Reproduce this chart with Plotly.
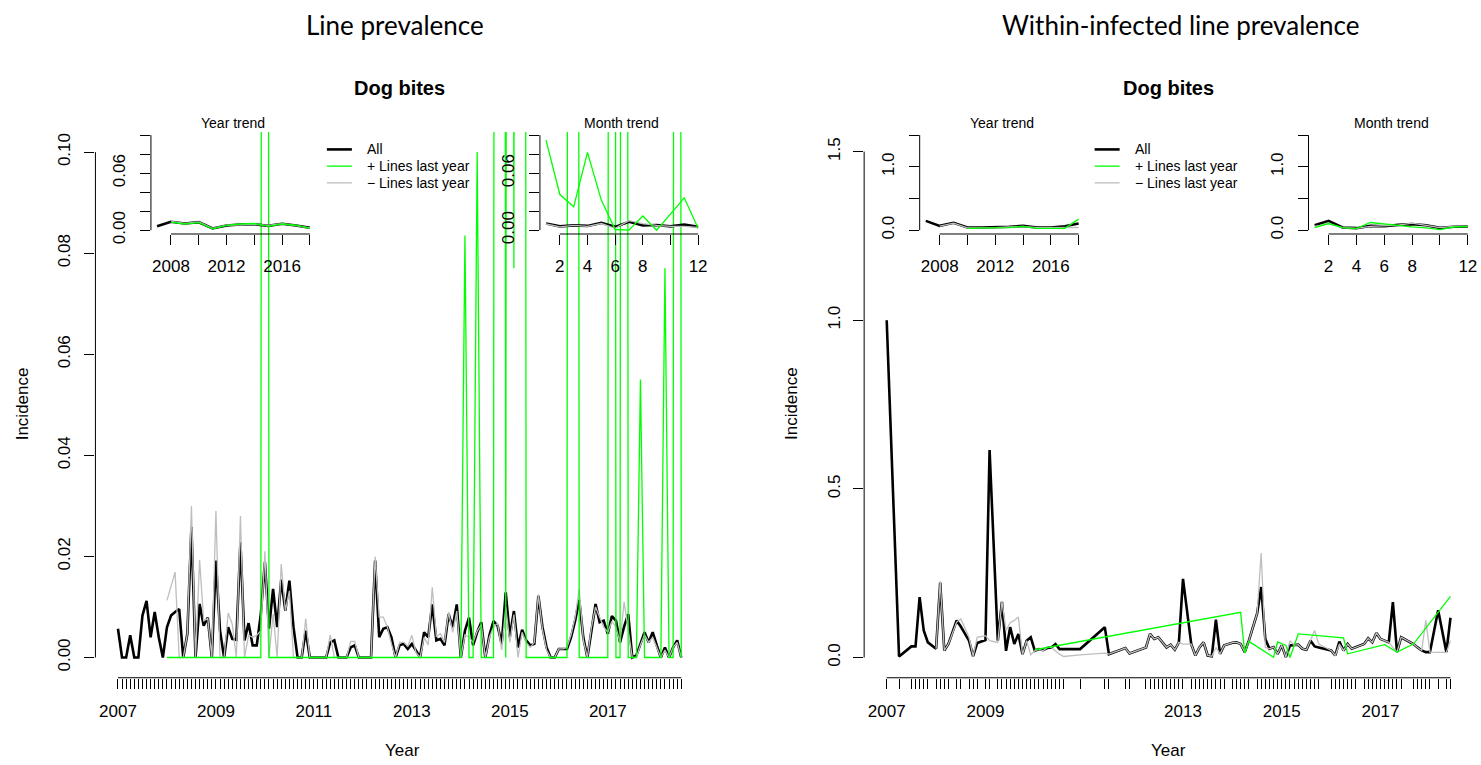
import plotly.graph_objects as go

W, H = 1481, 765
# effective rendered size observed in the screenshot (used for pixel -> paper conversion)
W_EFF, H_EFF = 1478.5, 754.4
N = None

# ---------------- Left panel: line prevalence (monthly Jan 2007 .. Jul 2018)
left_dates = [f"{2007 + k // 12}-{k % 12 + 1:02d}" for k in range(139)]
left_all = [
    0.0057, 0, 0, 0.0044, 0, 0, 0.0083, 0.0112, 0.0040, 0.0090, 0.0040, 0,
    0.0060, 0.0083, 0.0090, 0.0096, 0, 0.0047, 0.0258, 0, 0.0106, 0.0063, 0.0079, 0,
    0.0192, 0.0053, 0, 0.0060, 0.0037, 0.0035, 0.0228, 0.0034, 0.0068, 0.0024, 0.0024, 0.0086,
    0.0189, 0.0057, 0.0136, 0.0060, 0.0154, 0.0093, 0.0152, 0.0060, 0, 0, 0.0053, 0,
    0, 0, 0, 0, 0.0030, 0.0034, 0, 0, 0, 0.0020, 0.0024, 0,
    0, 0, 0, 0.0192, 0.0040, 0.0057, 0.0060, 0.0040, 0, 0.0024, 0.0027, 0.0017,
    0.0027, 0.0014, 0, 0.0050, 0.0040, 0.0105, 0.0034, 0.0037, 0.0024, 0.0086, 0.0060, 0.0105,
    0, 0.0053, 0.0079, 0.0024, 0.0050, 0.0070, 0, 0.0044, 0.0072, 0.0063, 0.0027, 0.0129,
    0.0041, 0.0092, 0.0020, 0.0055, 0.0034, 0.0024, 0.0027, 0.0122, 0.0060, 0.0020, 0, 0,
    0.0017, 0.0017, 0.0017, 0.0040, 0.0073, 0.0114, 0.0040, 0, 0.0053, 0.0106, 0.0070, 0.0073,
    0.0047, 0.0082, 0.0073, 0.0030, 0.0061, 0.0086, 0, 0.0004, 0.0027, 0.0050, 0.0030, 0.0050,
    0.0024, 0, 0.0020, 0, 0.0020, 0.0034, 0,
]
left_minus = [
    N, N, N, N, N, N, N, N, N, N, N, N,
    0.0113, 0.0140, 0.0169, 0, 0, 0.0047, 0.0300, 0, 0.0193, 0.0073, 0.0077, 0,
    0.0290, 0, 0, 0.0088, 0.0066, 0, 0.0280, 0, 0.0044, 0.0040, 0.0044, 0.0053,
    0.0210, 0, 0.0086, 0, 0.0185, 0.0093, 0.0132, 0, 0, 0, 0.0077, 0,
    0, 0, 0, 0, 0.0045, 0, 0, 0, 0, 0.0032, 0.0032, 0,
    0, 0, 0, 0.0200, 0.0080, 0.0080, 0.0060, 0.0027, 0, 0.0030, 0.0030, 0.0022,
    0.0044, 0.0010, 0, 0.0040, 0.0025, 0.0139, 0.0042, 0.0047, 0.0030, 0.0090, 0.0050, 0.0092,
    0, 0.0045, 0.0040, 0.0030, 0.0052, 0.0065, 0, 0.0040, 0.0060, 0.0068, 0.0015, 0.0100,
    0.0030, 0.0085, 0, 0.0050, 0.0030, 0.0020, 0.0030, 0.0125, 0.0055, 0.0015, 0, 0,
    0.0017, 0.0017, 0.0020, 0.0045, 0.0080, 0.0136, 0.0035, 0, 0.0060, 0.0100, 0.0080, 0.0060,
    0.0050, 0.0072, 0.0060, 0.0030, 0.0110, 0.0050, 0, 0, 0.0025, 0.0045, 0.0030, 0.0040,
    0.0020, 0, 0.0015, 0, 0.0020, 0.0030, 0,
]
left_plus = [
    N, N, N, N, N, N, N, N, N, N, N, N,
    0, 0, 0, 0, 0, 0, 0, 0, 0, 0, 0, 0,
    0, 0, 0, 0, 0, 0, 0, 0, 0, 0, 0, 0,
    1.0, 0, 0, 0, 0, 0, 0, 0, 0, 0, 0, 0,
    0, 0, 0, 0, 0, 0, 0, 0, 0, 0, 0, 0,
    0, 0, 0, 0, 0, 0, 0, 0, 0, 0, 0, 0,
    0, 0, 0, 0, 0, 0, 0, 0, 0, 0, 0, 0,
    0, 0.0835, 0, 0, 0.100, 0, 0, 0, 0, 1.0, 1.0, 0,
    1.0, 0.077, 1.0, 1.0, 0, 0, 0, 0, 0, 0, 0, 0,
    0, 0, 0, 1.0, 1.0, 0, 0, 0, 0, 0, 0, 0,
    0, 1.0, 0, 0, 1.0, 0, 0, 0, 0.055, 0, 0, 0,
    0, 0, 0.077, 0, 0, 1.0, 0,
]

years = list(range(2007, 2019))
left_year_all = [0.0042, 0.0088, 0.0070, 0.0084, 0.0018, 0.0049, 0.0060, 0.0063, 0.0046, 0.0067, 0.0050, 0.0025]
left_year_plus = [N, 0.0085, 0.0065, 0.0080, 0.0015, 0.0050, 0.0065, 0.0070, 0.0040, 0.0065, 0.0052, 0.0020]
left_year_minus = [N, 0.0092, 0.0072, 0.0088, 0.0020, 0.0052, 0.0058, 0.0060, 0.0050, 0.0068, 0.0048, 0.0025]

months = list(range(1, 13))
left_month_all = [0.0070, 0.0040, 0.0050, 0.0045, 0.0077, 0.0035, 0.0088, 0.0050, 0.0055, 0.0040, 0.0060, 0.0035]
left_month_plus = [0.0947, 0.0375, 0.0246, 0.0818, 0.0316, 0.0007, 0.0, 0.0150, 0.0, 0.0170, 0.0340, 0.0020]
left_month_minus = [0.0065, 0.0035, 0.0050, 0.0040, 0.0070, 0.0020, 0.0100, 0.0070, 0.0050, 0.0040, 0.0040, 0.0030]

# ---------------- Right panel: within-infected line prevalence (irregular months)
right_dates = [
    "2007-01", "2007-04", "2007-07", "2007-08", "2007-09", "2007-10", "2007-11",
    "2008-01", "2008-02", "2008-03", "2008-04", "2008-06", "2008-07", "2008-09", "2008-10", "2008-11",
    "2009-01", "2009-02", "2009-04", "2009-05", "2009-06", "2009-07", "2009-08", "2009-09", "2009-10", "2009-11", "2009-12",
    "2010-01", "2010-02", "2010-03", "2010-04", "2010-05", "2010-06", "2010-07", "2010-08", "2010-12",
    "2011-06", "2011-07", "2011-11", "2011-12",
    "2012-04", "2012-05", "2012-06", "2012-07", "2012-08", "2012-09", "2012-10", "2012-11", "2012-12",
    "2013-01", "2013-03", "2013-04", "2013-05", "2013-06", "2013-07", "2013-08", "2013-09", "2013-10", "2013-11",
    "2014-01", "2014-02", "2014-03", "2014-04", "2014-05", "2014-07", "2014-08", "2014-09", "2014-10", "2014-11", "2014-12",
    "2015-01", "2015-02", "2015-03", "2015-04", "2015-05", "2015-06", "2015-07", "2015-08", "2015-09", "2015-10",
    "2016-01", "2016-02", "2016-03", "2016-04", "2016-05", "2016-06", "2016-07", "2016-09", "2016-10", "2016-11", "2016-12",
    "2017-01", "2017-02", "2017-03", "2017-04", "2017-05", "2017-06", "2017-09", "2017-10", "2017-11", "2017-12",
    "2018-01", "2018-03", "2018-05", "2018-06",
]
right_all = [
    1.0, 0.003, 0.033, 0.033, 0.179, 0.080, 0.045,
    0.026, 0.222, 0.021, 0.040, 0.110, 0.092, 0.050, 0.004, 0.043,
    0.052, 0.615, 0.050, 0.165, 0.020, 0.090, 0.040, 0.070, 0.010, 0.050, 0.060,
    0.020, 0.025, 0.022, 0.028, 0.030, 0.040, 0.025, 0.025, 0.025,
    0.090, 0.010, 0.028, 0.012,
    0.030, 0.070, 0.055, 0.060, 0.045, 0.030, 0.038, 0.023, 0.045,
    0.233, 0.040, 0.006, 0.030, 0.045, 0.006, 0.004, 0.112, 0.011, 0.036,
    0.044, 0.045, 0.040, 0.016, 0.050, 0.130, 0.209, 0.055, 0.026, 0.031, 0.011,
    0.036, 0.001, 0.036, 0.036, 0.038, 0.026, 0.023, 0.050, 0.033, 0.030,
    0.021, 0.006, 0.047, 0.021, 0.040, 0.026, 0.030, 0.040, 0.057, 0.045, 0.073,
    0.055, 0.050, 0.045, 0.164, 0.016, 0.060, 0.040, 0.030, 0.021, 0.016,
    0.016, 0.140, 0.016, 0.118,
]
right_minus = [
    N, N, N, N, N, N, N,
    0.026, 0.226, 0.021, 0.040, 0.105, 0.115, 0.060, 0.004, 0.060,
    0.065, 0.050, 0.045, 0.167, 0.080, 0.103, 0.110, 0.120, 0.009, 0.050, 0.008,
    0.020, 0.025, 0.020, 0.030, 0.030, 0.020, 0.010, 0.003, 0.008,
    0.013, 0.010, 0.028, 0.012,
    0.030, 0.070, 0.055, 0.060, 0.045, 0.030, 0.038, 0.023, 0.045,
    0.040, 0.040, 0.006, 0.030, 0.045, 0.006, 0.004, 0.030, 0.011, 0.036,
    0.044, 0.045, 0.040, 0.016, 0.050, 0.130, 0.310, 0.030, 0.026, 0.031, 0.011,
    0.036, 0.001, 0.050, 0.036, 0.038, 0.026, 0.023, 0.050, 0.080, 0.040,
    0.021, 0.006, 0.040, 0.021, 0.040, 0.026, 0.030, 0.040, 0.057, 0.045, 0.073,
    0.055, 0.050, 0.045, 0.030, 0.016, 0.060, 0.040, 0.030, 0.021, 0.110,
    0.016, 0.015, 0.015, 0.050,
]
right_plus_dates = ["2010-01", "2014-03", "2014-04", "2014-05", "2014-11", "2014-12", "2015-02",
                    "2015-03", "2015-05", "2016-04", "2016-05", "2017-02", "2017-05", "2017-09", "2018-06"]
right_plus = [0.023, 0.134, 0.013, 0.048, 0.001, 0.046, 0.036, 0.0, 0.070, 0.058, 0.011, 0.038, 0.016, 0.040, 0.181]

right_year_all = [0.147, 0.068, 0.116, 0.042, 0.042, 0.042, 0.053, 0.068, 0.042, 0.042, 0.063, 0.105]
right_year_plus = [N, N, N, 0.030, 0.030, 0.030, 0.040, 0.060, 0.030, 0.030, 0.030, 0.174]
right_year_minus = [N, 0.065, 0.110, 0.035, 0.035, 0.040, 0.050, 0.060, 0.040, 0.040, 0.050, 0.042]

right_month_all = [0.079, 0.147, 0.042, 0.032, 0.068, 0.063, 0.084, 0.095, 0.079, 0.037, 0.053, 0.058]
right_month_plus = [0.042, 0.105, 0.040, 0.026, 0.121, 0.095, 0.074, 0.053, 0.037, 0.010, 0.050, 0.058]
right_month_minus = [0.060, 0.100, 0.040, 0.030, 0.060, 0.070, 0.080, 0.110, 0.080, 0.040, 0.060, 0.060]

series_names = ["All", "+ Lines last year", "\u2212 Lines last year"]
year_labels_left = {"2007-01": "2007", "2009-01": "2009", "2011-01": "2011", "2013-01": "2013",
                    "2015-01": "2015", "2017-01": "2017"}
year_labels_right = {"2007-01": "2007", "2009-01": "2009", "2013-01": "2013", "2015-01": "2015",
                     "2017-01": "2017"}

# ---------------- styling
BLACK = "#000000"
GREEN = "#00FF00"
GREY = "#BEBEBE"
FONT = "Liberation Sans, Arial, Helvetica, sans-serif"
TITLEFONT = "Lato, Open Sans, sans-serif"
TICKFONT = dict(family=FONT, size=17, color="black")


def dec(d):
    y, m = d.split("-")
    return int(y) + (int(m) - 1) / 12.0


def pxx(p):
    return p / W_EFF


def pxy(p):
    return 1 - p / H_EFF


fig = go.Figure()
layout = dict(width=W, height=H, margin=dict(l=0, r=0, t=0, b=0),
              paper_bgcolor="white", plot_bgcolor="rgba(0,0,0,0)", showlegend=False)
shapes = []
annotations = []


def add_panel(idx, xpx0, xscale, xorigin, xr, ypx0, yscale, yr, xticks, xtext, yticks, ytext,
              xline, yline, xstand, ystand):
    """xpx = xpx0 + xscale*(x - xorigin); ypx = ypx0 - yscale*y"""
    d0 = xpx0 + xscale * (xr[0] - xorigin)
    d1 = xpx0 + xscale * (xr[1] - xorigin)
    top = ypx0 - yscale * yr[1]
    bot = ypx0 - yscale * yr[0]
    sx = "" if idx == 1 else str(idx)
    layout["xaxis" + sx] = dict(domain=[pxx(d0), pxx(d1)], range=list(xr), anchor="y" + sx,
                                tickmode="array", tickvals=xticks, ticktext=xtext,
                                ticks="outside", ticklen=10, tickwidth=1, tickcolor="black",
                                showline=False, showgrid=False, zeroline=False,
                                tickfont=TICKFONT, ticklabelstandoff=xstand, tickangle=0)
    layout["yaxis" + sx] = dict(domain=[pxy(bot), pxy(top)], range=list(yr), anchor="x" + sx,
                                tickmode="array", tickvals=yticks, ticktext=ytext,
                                ticks="outside", ticklen=10, tickwidth=1, tickcolor="black",
                                showline=False, showgrid=False, zeroline=False,
                                tickfont=TICKFONT, tickangle=-90, ticklabelstandoff=ystand)
    shapes.append(dict(type="line", xref="x" + sx, yref="paper", x0=xline[0], x1=xline[1],
                       y0=pxy(bot), y1=pxy(bot), line=dict(color="black", width=1)))
    shapes.append(dict(type="line", xref="paper", yref="y" + sx, x0=pxx(d0), x1=pxx(d0),
                       y0=yline[0], y1=yline[1], line=dict(color="black", width=1)))
    return "x" + sx, "y" + sx


def add_series(xa, ya, x_all, all_, x_plus, plus, x_minus, minus, wb=2.6, wt=1.3):
    fig.add_trace(go.Scatter(x=x_all, y=all_, mode="lines", xaxis=xa, yaxis=ya, name=series_names[0],
                             line=dict(color=BLACK, width=wb), connectgaps=False, hoverinfo="skip"))
    fig.add_trace(go.Scatter(x=x_minus, y=minus, mode="lines", xaxis=xa, yaxis=ya, name=series_names[2],
                             line=dict(color=GREY, width=wt), connectgaps=False, hoverinfo="skip"))
    fig.add_trace(go.Scatter(x=x_plus, y=plus, mode="lines", xaxis=xa, yaxis=ya, name=series_names[1],
                             line=dict(color=GREEN, width=wt), connectgaps=False, hoverinfo="skip"))


# ---- Left main
lx = [dec(d) for d in left_dates]
span = lx[-1] - lx[0]
xr = (lx[0] - 0.04 * span, lx[-1] + 0.04 * span)
xa, ya = add_panel(1, 118, 49.0, 2007, xr, 657, 5050, (-0.004, 0.104),
                   lx, [year_labels_left.get(d, "") for d in left_dates],
                   [0, 0.02, 0.04, 0.06, 0.08, 0.10], ["0.00", "0.02", "0.04", "0.06", "0.08", "0.10"],
                   (lx[0], lx[-1]), (0, 0.10), 8, 8)
add_series(xa, ya, lx, left_all, lx, left_plus, lx, left_minus)

# ---- Left year inset
span = years[-1] - years[0]
xr = (years[0] - 0.04 * span, years[-1] + 0.04 * span)
xa, ya = add_panel(2, 157.1, 13.9, 2007, xr, 230, 950, (-0.004, 0.104),
                   [2008, 2010, 2012, 2014, 2016, 2018], ["2008", "", "2012", "", "2016", ""],
                   [0, 0.02, 0.04, 0.06, 0.08, 0.10], ["0.00", "", "", "0.06", "", ""],
                   (2008, 2018), (0, 0.10), 7, 8)
add_series(xa, ya, years, left_year_all, years, left_year_plus, years, left_year_minus)

# ---- Left month inset
xr = (1 - 0.44, 12 + 0.44)
xa, ya = add_panel(3, 546.2, 13.83, 1, xr, 230, 950, (-0.004, 0.104),
                   [2, 4, 6, 8, 10, 12], ["2", "4", "6", "8", "", "12"],
                   [0, 0.02, 0.04, 0.06, 0.08, 0.10], ["0.00", "", "", "0.06", "", ""],
                   (2, 12), (0, 0.10), 7, 8)
add_series(xa, ya, months, left_month_all, months, left_month_plus, months, left_month_minus)

# ---- Right main
rx = [dec(d) for d in right_dates]
rpx = [dec(d) for d in right_plus_dates]
span = rx[-1] - rx[0]
xr = (rx[0] - 0.04 * span, rx[-1] + 0.04 * span)
xa, ya = add_panel(4, 887, 49.4, 2007, xr, 657, 337, (-0.06, 1.56),
                   rx, [year_labels_right.get(d, "") for d in right_dates],
                   [0, 0.5, 1.0, 1.5], ["0.0", "0.5", "1.0", "1.5"],
                   (rx[0], rx[-1]), (0, 1.5), 8, 6)
add_series(xa, ya, rx, right_all, rpx, right_plus, rx, right_minus)

# ---- Right year inset
span = years[-1] - years[0]
xr = (years[0] - 0.04 * span, years[-1] + 0.04 * span)
xa, ya = add_panel(5, 926.1, 13.9, 2007, xr, 230, 63.33, (-0.06, 1.56),
                   [2008, 2010, 2012, 2014, 2016, 2018], ["2008", "", "2012", "", "2016", ""],
                   [0, 0.5, 1.0, 1.5], ["0.0", "", "1.0", ""],
                   (2008, 2018), (0, 1.5), 7, 8)
add_series(xa, ya, years, right_year_all, years, right_year_plus, years, right_year_minus)

# ---- Right month inset
xr = (1 - 0.44, 12 + 0.44)
xa, ya = add_panel(6, 1315.1, 13.93, 1, xr, 230, 63.33, (-0.06, 1.56),
                   [2, 4, 6, 8, 10, 12], ["2", "4", "6", "8", "", "12"],
                   [0, 0.5, 1.0, 1.5], ["0.0", "", "1.0", ""],
                   (2, 12), (0, 1.5), 7, 8)
add_series(xa, ya, months, right_month_all, months, right_month_plus, months, right_month_minus)


# ---------------- text
def ann(text, x, y, size, family=FONT, angle=0, xanchor="center", bold=False):
    if bold:
        text = "<b>" + text + "</b>"
    annotations.append(dict(text=text, x=pxx(x), y=pxy(y), xref="paper", yref="paper",
                            showarrow=False, xanchor=xanchor, yanchor="middle", textangle=angle,
                            font=dict(family=family, size=size, color="black")))


ann("Line prevalence", 395, 25, 26, TITLEFONT)
ann("Within-infected line prevalence", 1181, 25, 26, TITLEFONT)
ann("Dog bites", 400, 88, 20, bold=True)
ann("Dog bites", 1169, 88, 20, bold=True)
ann("Year trend", 233.5, 123, 14)
ann("Month trend", 622, 123, 14)
ann("Year trend", 1002.5, 123, 14)
ann("Month trend", 1391.7, 123, 14)
ann("Incidence", 22, 403, 17, angle=-90)
ann("Incidence", 792, 403, 17, angle=-90)
ann("Year", 403, 750, 17)
ann("Year", 1169, 750, 17)

# legends
leg_cols = [BLACK, GREEN, GREY]
leg_w = [2.6, 1.3, 1.3]
for (lx0, tx) in [(327, 365), (1095, 1133)]:
    for k, yy in enumerate([149.3, 166.0, 182.7]):
        shapes.append(dict(type="line", xref="paper", yref="paper", x0=pxx(lx0), x1=pxx(lx0 + 25),
                           y0=pxy(yy), y1=pxy(yy), line=dict(color=leg_cols[k], width=leg_w[k])))
        ann(series_names[k], tx, yy, 14, xanchor="left")

layout["shapes"] = shapes
layout["annotations"] = annotations
fig.update_layout(**layout)
fig.write_html("out.html")
